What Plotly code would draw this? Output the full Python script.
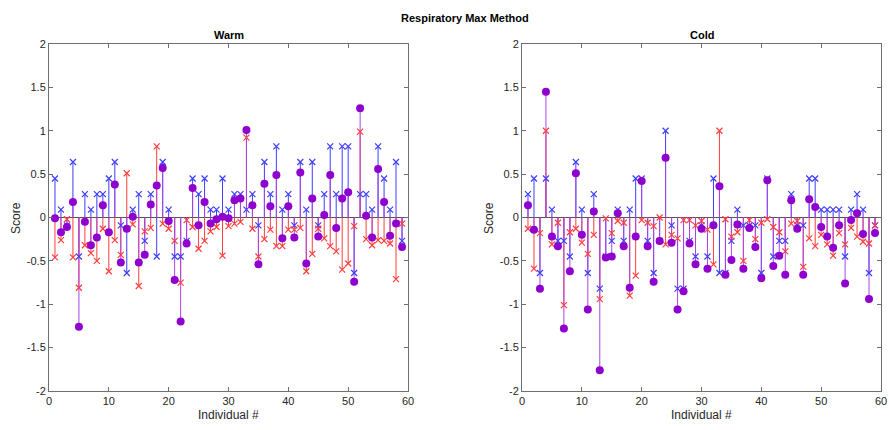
import plotly.graph_objects as go

individuals = list(range(1, 60))

# Warm
warm_blue = [0.45, 0.09, -0.09, 0.64, -0.45, 0.27, 0.09, 0.27, 0.27, 0.45,
             0.64, -0.09, -0.64, 0.09, 0.27, -0.27, 0.27, -0.45, 0.64, 0.09,
             -0.45, -0.45, -0.27, 0.45, 0.27, 0.45, 0.09, 0.09, 0.45, 0.09,
             0.27, 0.27, 0.09, 0.27, -0.09, 0.64, 0.27, 0.82, 0.09, 0.27,
             -0.09, 0.64, 0.09, 0.64, -0.09, 0.27, 0.82, 0.27, 0.82, 0.82,
             -0.64, 0.27, 0.27, 0.09, 0.82, 0.45, 0.09, 0.64, -0.27]
warm_red = [-0.46, -0.26, -0.02, -0.46, -0.81, -0.32, -0.41, -0.50, -0.13, -0.62,
            -0.26, -0.43, 0.51, -0.08, -0.79, -0.16, -0.12, 0.82, -0.07, -0.13,
            -0.27, -0.75, -0.03, -0.11, -0.36, -0.27, -0.16, -0.11, -0.44, -0.10,
            -0.07, -0.05, 0.92, -0.13, -0.45, -0.25, -0.14, -0.33, -0.33, -0.14,
            -0.14, -0.12, -0.62, -0.42, -0.13, -0.24, -0.33, -0.39, -0.60, -0.53,
            -0.10, 0.99, -0.25, -0.32, -0.26, -0.27, -0.30, -0.71, -0.07]
warm_purple = [-0.01, -0.17, -0.11, 0.18, -1.26, -0.05, -0.32, -0.23, 0.14, -0.17,
               0.38, -0.52, -0.13, 0.01, -0.52, -0.43, 0.15, 0.37, 0.57, -0.04,
               -0.72, -1.20, -0.30, 0.34, -0.09, 0.18, -0.07, -0.02, 0.01, -0.01,
               0.20, 0.22, 1.01, 0.14, -0.54, 0.39, 0.13, 0.49, -0.24, 0.13,
               -0.23, 0.52, -0.53, 0.22, -0.22, 0.03, 0.49, -0.12, 0.22, 0.29,
               -0.74, 1.26, 0.02, -0.23, 0.56, 0.18, -0.21, -0.07, -0.34]

# Cold
cold_blue = [0.27, 0.45, -0.64, 0.45, 0.09, -0.27, -0.27, -0.45, 0.64, 0.09,
             -0.64, 0.27, -0.82, -0.45, -0.27, 0.09, -0.27, 0.09, 0.45, 0.45,
             -0.27, -0.64, -0.27, 1.00, -0.09, -0.82, -0.82, -0.27, -0.45, -0.09,
             -0.45, 0.45, -0.64, -0.64, -0.27, 0.09, -0.09, -0.09, -0.09, -0.64,
             0.45, -0.45, -0.27, -0.27, 0.27, -0.09, -0.09, 0.45, 0.45, 0.09,
             0.09, 0.09, 0.09, -0.45, 0.09, 0.27, 0.09, -0.64, -0.09]
cold_red = [-0.13, -0.59, -0.18, 1.00, -0.31, -0.06, -1.01, -0.17, -0.13, -0.29,
            -0.42, -0.20, -0.94, -0.01, -0.18, -0.04, -0.06, -0.90, -0.67, -0.03,
            -0.06, -0.10, 0.00, -0.31, -0.20, -0.24, -0.03, -0.03, -0.09, -0.04,
            -0.14, -0.54, 1.00, -0.02, -0.22, -0.17, -0.50, -0.03, -0.25, -0.06,
            -0.02, -0.11, -0.17, -0.39, -0.07, -0.04, -0.57, -0.24, -0.33, -0.20,
            -0.31, -0.44, -0.18, -0.31, -0.12, -0.22, -0.28, -0.30, -0.09]
cold_purple = [0.14, -0.14, -0.82, 1.45, -0.22, -0.33, -1.28, -0.62, 0.51, -0.20,
               -1.06, 0.07, -1.76, -0.46, -0.45, 0.05, -0.33, -0.81, -0.22, 0.42,
               -0.33, -0.74, -0.27, 0.69, -0.29, -1.06, -0.85, -0.30, -0.54, -0.13,
               -0.59, -0.09, 0.36, -0.66, -0.49, -0.08, -0.59, -0.12, -0.34, -0.70,
               0.43, -0.56, -0.44, -0.66, 0.20, -0.13, -0.66, 0.21, 0.12, -0.11,
               -0.22, -0.35, -0.09, -0.76, -0.03, 0.05, -0.19, -0.94, -0.18]

x_ticks = [0, 10, 20, 30, 40, 50, 60]
y_ticks = [-2, -1.5, -1, -0.5, 0, 0.5, 1, 1.5, 2]
y_tick_text = ["-2", "-1.5", "-1", "-0.5", "0", "0.5", "1", "1.5", "2"]

BLUE = "#3d3dff"
RED = "#ff3d3d"
PURPLE_LINE = "#a846e6"
PURPLE_MARK = "#8f00cf"
FONT = "Liberation Sans, Arial, sans-serif"


def stems(xs, ys):
    sx, sy = [], []
    for xv, yv in zip(xs, ys):
        sx += [xv, xv, None]
        sy += [0, yv, None]
    return sx, sy


fig = go.Figure()

panels = [
    ("x", "y", warm_blue, warm_red, warm_purple),
    ("x2", "y2", cold_blue, cold_red, cold_purple),
]

for xa, ya, b, r, p in panels:
    fig.add_trace(go.Scatter(x=[0, 60], y=[0, 0], mode="lines",
                             line=dict(color="#555555", width=1),
                             xaxis=xa, yaxis=ya, showlegend=False, hoverinfo="skip"))
    for vals, col in [(b, BLUE), (r, RED), (p, PURPLE_LINE)]:
        sx, sy = stems(individuals, vals)
        fig.add_trace(go.Scatter(x=sx, y=sy, mode="lines",
                                 line=dict(color=col, width=1),
                                 xaxis=xa, yaxis=ya, showlegend=False, hoverinfo="skip"))
    fig.add_trace(go.Scatter(x=individuals, y=b, mode="markers",
                             marker=dict(symbol="x-thin", size=6,
                                         line=dict(color=BLUE, width=1.2)),
                             xaxis=xa, yaxis=ya, showlegend=False))
    fig.add_trace(go.Scatter(x=individuals, y=r, mode="markers",
                             marker=dict(symbol="x-thin", size=6,
                                         line=dict(color=RED, width=1.2)),
                             xaxis=xa, yaxis=ya, showlegend=False))
    fig.add_trace(go.Scatter(x=individuals, y=p, mode="markers",
                             marker=dict(symbol="circle", size=8, color=PURPLE_MARK,
                                         line=dict(width=0)),
                             xaxis=xa, yaxis=ya, showlegend=False))

ydom = [1 - 391 / 430, 1 - 44 / 430]
common_x = dict(range=[0, 60], tickvals=x_ticks, ticks="inside", ticklen=4,
                tickcolor="#6e6e6e", showline=True, linecolor="#6e6e6e",
                linewidth=1, mirror="allticks", showgrid=False, zeroline=False,
                automargin=False,
                tickfont=dict(family=FONT, size=11, color="#262626"))
common_y = dict(range=[-2, 2], tickvals=y_ticks, ticktext=y_tick_text,
                ticks="inside", ticklen=4, tickcolor="#6e6e6e", showline=True,
                linecolor="#6e6e6e", linewidth=1, mirror="allticks",
                showgrid=False, zeroline=False, automargin=False,
                tickfont=dict(family=FONT, size=11, color="#262626"))


def ann(text, px, py, size=11, angle=0, color="black"):
    return dict(text=text, x=px / 889, y=1 - py / 430, xref="paper", yref="paper",
                xanchor="center", yanchor="middle", showarrow=False,
                textangle=angle, font=dict(family=FONT, size=size, color=color))


fig.update_layout(
    width=889, height=430,
    margin=dict(l=0, r=0, t=0, b=0, pad=0, autoexpand=False),
    paper_bgcolor="white", plot_bgcolor="white",
    xaxis=dict(domain=[49 / 889, 408 / 889], anchor="y", **common_x),
    yaxis=dict(domain=ydom, anchor="x", **common_y),
    xaxis2=dict(domain=[522 / 889, 881 / 889], anchor="y2", **common_x),
    yaxis2=dict(domain=ydom, anchor="x2", **common_y),
    annotations=[
        ann("<b>Respiratory Max Method</b>", 465, 18),
        ann("<b>Warm</b>", 228.5, 35),
        ann("<b>Cold</b>", 701.5, 35),
        ann("Individual #", 228.5, 415, size=12, color="#262626"),
        ann("Individual #", 701.5, 415, size=12, color="#262626"),
        ann("Score", 16, 218, size=12, angle=-90, color="#262626"),
        ann("Score", 489, 218, size=12, angle=-90, color="#262626"),
    ],
)

fig.write_html("out.html")
